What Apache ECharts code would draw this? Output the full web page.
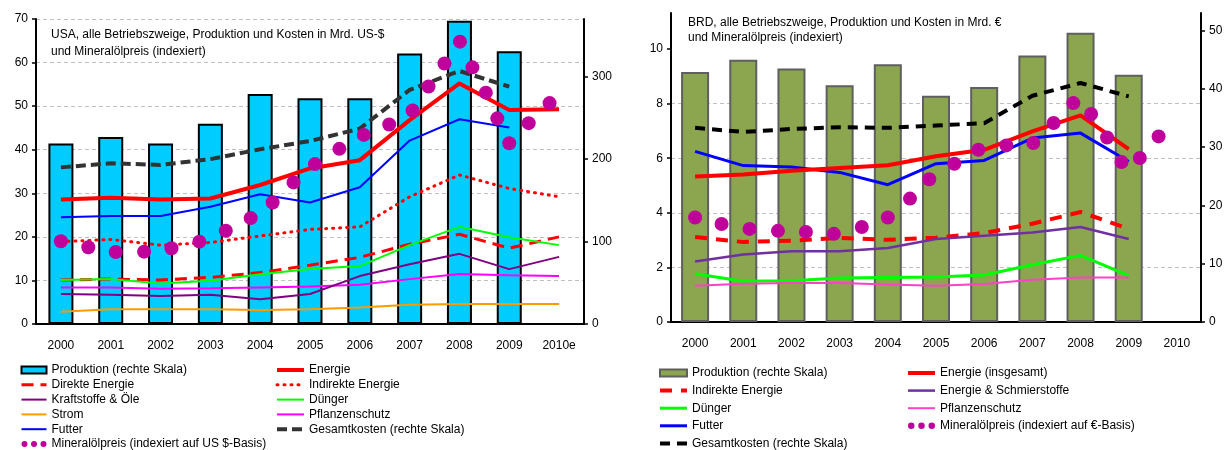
<!DOCTYPE html>
<html>
<head>
<meta charset="utf-8">
<script src="https://cdn.jsdelivr.net/npm/echarts@6/dist/echarts.min.js"></script>
<style>
html,body{margin:0;padding:0;background:#fff;}
#c1{position:absolute;left:0;top:0;width:615px;height:450px;}
#c2{position:absolute;left:615px;top:0;width:616px;height:450px;}
</style>
</head>
<body>
<div id="c1"></div>
<div id="c2"></div>
<script>
// ---------- USA (left) ----------
const usYears = ['2000','2001','2002','2003','2004','2005','2006','2007','2008','2009','2010e'];
const usProduktion = [219, 227, 219, 243, 279, 274, 274, 328, 368, 331, null];
const usGesamtkosten = [190, 195, 193, 200, 212, 222, 237, 284, 307, 288, null];
const usEnergie = [28.6, 29.0, 28.6, 28.8, 31.9, 35.7, 37.6, 46.8, 55.2, 49.1, 49.3];
const usDirekte = [10.1, 10.3, 10.1, 10.7, 11.8, 13.5, 15.3, 18.3, 20.6, 17.4, 20.0];
const usIndirekte = [18.9, 19.4, 18.1, 18.7, 20.2, 21.7, 22.3, 29.2, 34.2, 31.1, 29.2];
const usKraftstoffe = [6.9, 6.7, 6.4, 6.7, 5.7, 6.9, 11.0, 13.7, 16.1, 12.6, 15.4];
const usDuenger = [10.1, 10.3, 9.3, 9.9, 11.4, 12.6, 13.3, 18.1, 22.3, 19.9, 18.1];
const usStrom = [2.8, 3.4, 3.4, 3.4, 3.2, 3.4, 3.8, 4.4, 4.6, 4.6, 4.6];
const usPflanzenschutz = [8.4, 8.4, 8.1, 8.2, 8.4, 8.6, 9.0, 10.3, 11.5, 11.2, 11.0];
const usFutter = [24.5, 24.8, 24.8, 26.9, 29.8, 27.9, 31.4, 42.1, 47.0, 45.1, null];
const usOelZeit = [0, 0.55, 1.1, 1.67, 2.22, 2.78, 3.31, 3.81, 4.25, 4.67, 5.1, 5.59, 6.08, 6.59, 7.06, 7.38, 7.7, 8.01, 8.26, 8.53, 8.76, 9.0, 9.39, 9.81];
const usOelpreis = [19.0, 17.6, 16.5, 16.6, 17.4, 18.9, 21.4, 24.3, 27.9, 32.5, 36.7, 40.2, 43.4, 45.8, 49.0, 54.5, 59.8, 64.8, 58.9, 53.1, 47.2, 41.5, 46.1, 50.7];
const usLeftTicks = [0, 10, 20, 30, 40, 50, 60, 70];
const usRightTicks = [0, 100, 200, 300];

// ---------- BRD (right) ----------
const deYears = ['2000','2001','2002','2003','2004','2005','2006','2007','2008','2009','2010'];
const deProduktion = [42.9, 45.0, 43.5, 40.6, 44.2, 38.8, 40.3, 45.7, 49.6, 42.4, null];
const deGesamtkosten = [33.3, 32.6, 33.1, 33.4, 33.3, 33.7, 34.1, 38.8, 41.0, 38.7, null];
const deEnergie = [5.33, 5.40, 5.54, 5.64, 5.74, 6.07, 6.31, 6.98, 7.57, 6.33, null];
const deIndirekte = [3.11, 2.93, 2.98, 3.08, 3.01, 3.09, 3.26, 3.60, 4.03, 3.41, null];
const deSchmierstoffe = [2.22, 2.47, 2.59, 2.59, 2.71, 3.04, 3.16, 3.28, 3.48, 3.04, null];
const deDuenger = [1.77, 1.49, 1.51, 1.61, 1.63, 1.65, 1.72, 2.10, 2.44, 1.70, null];
const dePflanzenschutz = [1.33, 1.40, 1.43, 1.43, 1.37, 1.33, 1.39, 1.55, 1.63, 1.63, null];
const deFutter = [6.25, 5.73, 5.68, 5.48, 5.03, 5.80, 5.92, 6.74, 6.92, 5.88, null];
const deOelZeit = [0, 0.55, 1.13, 1.72, 2.30, 2.88, 3.46, 4.0, 4.46, 4.86, 5.38, 5.88, 6.46, 7.02, 7.44, 7.85, 8.22, 8.55, 8.85, 9.23, 9.62];
const deOelpreis = [3.83, 3.59, 3.41, 3.34, 3.30, 3.23, 3.48, 3.83, 4.52, 5.23, 5.80, 6.31, 6.47, 6.56, 7.29, 8.02, 7.62, 6.76, 5.86, 6.01, 6.80];
const deLeftTicks = [0, 2, 4, 6, 8, 10];
const deRightTicks = [0, 10, 20, 30, 40, 50];

const FONT = 'Liberation Sans, Arial, sans-serif';
const dotsIcon = 'path://M0,3a3,3 0 1,0 6,0a3,3 0 1,0 -6,0M9.5,3a3,3 0 1,0 6,0a3,3 0 1,0 -6,0M19,3a3,3 0 1,0 6,0a3,3 0 1,0 -6,0';
const NOSYM = { color: 'rgba(0,0,0,0)', borderColor: 'rgba(0,0,0,0)', borderWidth: 0 };
const DOT_COLOR = '#C0009A';

function zip(xs, ys) { return xs.map((x, i) => [x, ys[i]]); }

function lineSeries(name, data, color, width, type, yIdx, z) {
  return {
    name: name, type: 'line', data: data, xAxisIndex: 0, yAxisIndex: yIdx || 0,
    symbol: 'none', showSymbol: false, z: z || 3, animation: false,
    lineStyle: { color: color, width: width, type: type || 'solid', cap: Array.isArray(type) && type[0] <= 2 ? 'round' : 'butt' },
    itemStyle: { color: color }
  };
}

function lineItem(name) { return { name: name, itemStyle: NOSYM }; }

function legendCol(left, top, data, gap, itemWidth) {
  return {
    orient: 'vertical', left: left, top: top, height: 140, width: 300, padding: 0, itemGap: gap,
    itemWidth: itemWidth, itemHeight: 7, data: data, selectedMode: false,
    textStyle: { fontFamily: FONT, fontSize: 12, color: '#000', lineHeight: 14 },
    lineStyle: { width: 'inherit' }
  };
}

function yAx(opts) {
  return Object.assign({
    type: 'value',
    axisLine: { show: true, onZero: false, lineStyle: { color: '#000', width: 2 } }
  }, opts);
}

// ---------- chart 1 ----------
const c1 = echarts.init(document.getElementById('c1'), null, { renderer: 'canvas' });
c1.setOption({
  animation: false,
  backgroundColor: '#fff',
  title: {
    text: 'USA, alle Betriebszweige, Produktion und Kosten in Mrd. US-$\nund Mineralölpreis (indexiert)',
    left: 46, top: 21,
    textStyle: { fontFamily: FONT, fontSize: 12, fontWeight: 'normal', color: '#000', lineHeight: 17 }
  },
  grid: { left: 36, right: 29, top: 19, bottom: 126 },
  xAxis: [
    { type: 'category', data: usYears, boundaryGap: true,
      axisLine: { lineStyle: { color: '#000', width: 2 } }, axisTick: { show: false },
      axisLabel: { fontFamily: FONT, fontSize: 12, color: '#000', margin: 16 } },
    { type: 'value', min: -0.5, max: 10.5, show: false }
  ],
  yAxis: [
    yAx({ min: 0, max: 70, interval: 10,
      splitLine: { show: true, lineStyle: { color: '#C0C0C0', type: [4, 3], width: 1.2 } },
      axisLabel: { fontFamily: FONT, fontSize: 12, color: '#000', margin: 8, customValues: usLeftTicks },
      axisTick: { show: true, length: 4, customValues: usLeftTicks, lineStyle: { color: '#000', width: 1.5 } } }),
    yAx({ min: 0, max: 370, interval: 100, position: 'right', splitLine: { show: false },
      axisLabel: { fontFamily: FONT, fontSize: 12, color: '#000', margin: 8, customValues: usRightTicks },
      axisTick: { show: true, length: 4, customValues: usRightTicks, lineStyle: { color: '#000', width: 1.5 } } })
  ],
  legend: [
    legendCol(20, 363, [
      { name: 'Produktion (rechte Skala)', icon: 'rect' },
      lineItem('Direkte Energie'), lineItem('Kraftstoffe & Öle'), lineItem('Strom'), lineItem('Futter'),
      { name: 'Mineralölpreis (indexiert auf US $-Basis)', icon: dotsIcon }
    ], 0.8, 25),
    legendCol(275, 363, [lineItem('Energie'), lineItem('Indirekte Energie'), lineItem('Dünger'),
      lineItem('Pflanzenschutz'), lineItem('Gesamtkosten (rechte Skala)')], 0.8, 27)
  ],
  series: [
    { name: 'Produktion (rechte Skala)', type: 'bar', data: usProduktion, yAxisIndex: 1, barWidth: 25, z: 2,
      itemStyle: { color: '#00CCFF', borderColor: '#000', borderWidth: 2 } },
    lineSeries('Gesamtkosten (rechte Skala)', usGesamtkosten, '#333333', 4, [10, 5], 1, 3),
    lineSeries('Energie', usEnergie, '#FF0000', 4, 'solid', 0, 4),
    lineSeries('Futter', usFutter, '#0000FF', 2, 'solid', 0, 3),
    lineSeries('Indirekte Energie', usIndirekte, '#FF0000', 3, [1, 6], 0, 3),
    lineSeries('Direkte Energie', usDirekte, '#FF0000', 3, [12, 7], 0, 3),
    lineSeries('Dünger', usDuenger, '#00FF00', 2, 'solid', 0, 3),
    lineSeries('Pflanzenschutz', usPflanzenschutz, '#FF00FF', 2, 'solid', 0, 3),
    lineSeries('Kraftstoffe & Öle', usKraftstoffe, '#800080', 2, 'solid', 0, 3),
    lineSeries('Strom', usStrom, '#FF9900', 2, 'solid', 0, 3),
    { name: 'Mineralölpreis (indexiert auf US $-Basis)', type: 'scatter', xAxisIndex: 1, yAxisIndex: 0,
      data: zip(usOelZeit, usOelpreis), symbol: 'circle', symbolSize: 14, z: 6,
      itemStyle: { color: DOT_COLOR, opacity: 1 } }
  ]
});

// ---------- chart 2 ----------
const c2 = echarts.init(document.getElementById('c2'), null, { renderer: 'canvas' });
c2.setOption({
  animation: false,
  backgroundColor: '#fff',
  title: {
    text: 'BRD, alle Betriebszweige, Produktion und Kosten in Mrd. €\nund Mineralölpreis (indexiert)',
    left: 68, top: 10,
    textStyle: { fontFamily: FONT, fontSize: 12, fontWeight: 'normal', color: '#000', lineHeight: 15 }
  },
  grid: { left: 56, right: 30, top: 13, bottom: 128 },
  xAxis: [
    { type: 'category', data: deYears, boundaryGap: true,
      axisLine: { lineStyle: { color: '#000', width: 2 } }, axisTick: { show: false },
      axisLabel: { fontFamily: FONT, fontSize: 12, color: '#000', margin: 16 } },
    { type: 'value', min: -0.5, max: 10.5, show: false }
  ],
  yAxis: [
    yAx({ min: 0, max: 11.32, interval: 2,
      splitLine: { show: true, showMaxLine: false, lineStyle: { color: '#C0C0C0', type: [4, 3], width: 1.2 } },
      axisLabel: { fontFamily: FONT, fontSize: 12, color: '#000', margin: 8, customValues: deLeftTicks },
      axisTick: { show: true, length: 4, customValues: deLeftTicks, lineStyle: { color: '#000', width: 1.5 } } }),
    yAx({ min: 0, max: 53, interval: 10, position: 'right', splitLine: { show: false },
      axisLabel: { fontFamily: FONT, fontSize: 12, color: '#000', margin: 8, customValues: deRightTicks },
      axisTick: { show: true, length: 4, customValues: deRightTicks, lineStyle: { color: '#000', width: 1.5 } } })
  ],
  legend: [
    legendCol(43, 366, [
      { name: 'Produktion (rechte Skala)', icon: 'rect' },
      lineItem('Indirekte Energie'), lineItem('Dünger'), lineItem('Futter'), lineItem('Gesamtkosten (rechte Skala)')
    ], 3.6, 27),
    legendCol(291, 366, [lineItem('Energie (insgesamt)'), lineItem('Energie & Schmierstoffe'), lineItem('Pflanzenschutz'),
      { name: 'Mineralölpreis (indexiert auf €-Basis)', icon: dotsIcon }], 3.6, 27)
  ],
  series: [
    { name: 'Produktion (rechte Skala)', type: 'bar', data: deProduktion, yAxisIndex: 1, barWidth: 28, z: 2,
      itemStyle: { color: '#8BA64F', borderColor: '#5F5F5F', borderWidth: 2 } },
    lineSeries('Gesamtkosten (rechte Skala)', deGesamtkosten, '#000000', 4, [10, 7], 1, 3),
    lineSeries('Energie (insgesamt)', deEnergie, '#FF0000', 4, 'solid', 0, 4),
    lineSeries('Futter', deFutter, '#0000FF', 3, 'solid', 0, 3),
    lineSeries('Indirekte Energie', deIndirekte, '#FF0000', 4, [12, 9], 0, 3),
    lineSeries('Energie & Schmierstoffe', deSchmierstoffe, '#7030A0', 2.5, 'solid', 0, 3),
    lineSeries('Dünger', deDuenger, '#00FF00', 3, 'solid', 0, 3),
    lineSeries('Pflanzenschutz', dePflanzenschutz, '#FF40C8', 2, 'solid', 0, 3),
    { name: 'Mineralölpreis (indexiert auf €-Basis)', type: 'scatter', xAxisIndex: 1, yAxisIndex: 0,
      data: zip(deOelZeit, deOelpreis), symbol: 'circle', symbolSize: 14, z: 6,
      itemStyle: { color: DOT_COLOR, opacity: 1 } }
  ]
});
</script>
</body>
</html>
